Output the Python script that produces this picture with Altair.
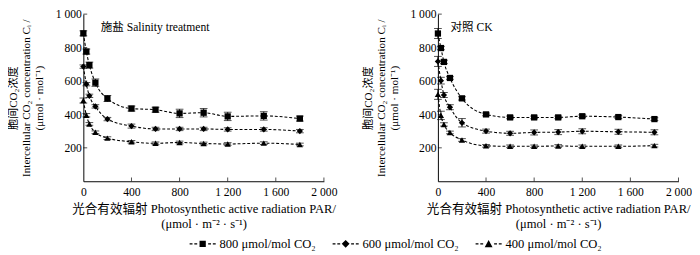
import altair as alt
import pandas as pd

# ---- data ----
par = [0, 25, 50, 100, 200, 400, 600, 800, 1000, 1200, 1500, 1800]

series_names = ["800 μmol/mol CO₂", "600 μmol/mol CO₂", "400 μmol/mol CO₂"]

# 施盐 Salinity treatment
salt_800 = [885, 776, 695, 590, 495, 435, 428, 406, 410, 388, 391, 375]
salt_600 = [686, 581, 511, 448, 372, 330, 313, 313, 313, 310, 310, 300]
salt_400 = [483, 395, 343, 293, 258, 236, 227, 232, 226, 223, 228, 220]
salt_800_err = [15, 15, 18, 22, 18, 15, 15, 25, 25, 25, 25, 15]
salt_600_err = [10, 10, 10, 10, 10, 12, 10, 10, 10, 10, 10, 10]
salt_400_err = [15, 10, 8, 8, 8, 8, 8, 8, 8, 8, 8, 8]

# 对照 CK
ck_800 = [884, 797, 714, 618, 496, 400, 382, 382, 382, 389, 384, 372]
ck_600 = [717, 602, 516, 443, 350, 300, 287, 292, 294, 299, 296, 293]
ck_400 = [520, 394, 340, 292, 247, 212, 209, 209, 211, 209, 209, 213]
ck_800_err = [30, 10, 10, 8, 10, 8, 8, 8, 8, 8, 8, 8]
ck_600_err = [30, 20, 15, 15, 25, 12, 12, 15, 15, 15, 15, 15]
ck_400_err = [30, 25, 10, 8, 8, 8, 8, 8, 8, 8, 8, 8]

panel_names = ["施盐 Salinity treatment", "对照 CK"]

x_ticks = [400, 800, 1200, 1600, 2000]
y_ticks = [200, 400, 600, 800, 1000]

# ---- build long table ----
rows = []
panel_data = {
    panel_names[0]: [(salt_800, salt_800_err), (salt_600, salt_600_err), (salt_400, salt_400_err)],
    panel_names[1]: [(ck_800, ck_800_err), (ck_600, ck_600_err), (ck_400, ck_400_err)],
}
for pname, sets in panel_data.items():
    for sname, (vals, errs) in zip(series_names, sets):
        for p, v, e in zip(par, vals, errs):
            rows.append({"panel": pname, "series": sname, "par": p, "ci": v,
                         "lo": v - e, "hi": v + e})
df = pd.DataFrame(rows)

FONT = "Liberation Serif, Noto Sans CJK SC"
shapes = ["square", "diamond", "triangle-up"]

dash = ("M-1,-0.05h0.22v0.1h-0.22z M-0.64,-0.05h0.22v0.1h-0.22z "
        "M0.42,-0.05h0.22v0.1h-0.22z M0.78,-0.05h0.22v0.1h-0.22z ")
legend_paths = [
    dash + "M-0.24,-0.24h0.48v0.48h-0.48z",
    dash + "M0,-0.3L0.3,0L0,0.3L-0.3,0z",
    dash + "M0,-0.3L0.3,0.26L-0.3,0.26z",
]

xscale = alt.Scale(domain=[0, 2000], nice=False)
yscale = alt.Scale(domain=[0, 1000], nice=False)

label_expr = "replace(format(datum.value, ','), ',', ' ')"

xaxis = alt.Axis(values=[0, 400, 800, 1200, 1600, 2000], labelExpr=label_expr,
                 ticks=False, grid=False, labelPadding=6, labelFlush=False,
                 title=["光合有效辐射 Photosynthetic active radiation PAR/", "(μmol · m⁻² · s⁻¹)"],
                 titlePadding=5, titleLineHeight=16, titleFontSize=13)
yaxis = alt.Axis(values=y_ticks, labelExpr=label_expr, ticks=False, grid=False,
                 labelPadding=2, labelFlush=False,
                 title=["胞间CO₂浓度", "Intercellular CO₂ concentration Cᵢ /", "(μmol · mol⁻¹)"],
                 titlePadding=11, titleLineHeight=13.5, titleFontSize=11.5)


def make_panel(pname, label_x, with_legend):
    base = alt.Chart(df).transform_filter(alt.datum.panel == pname)
    X = alt.X("par:Q", scale=xscale, axis=xaxis)
    Y = alt.Y("ci:Q", scale=yscale, axis=yaxis)

    line = base.mark_line(interpolate="monotone", strokeDash=[3, 2], color="black",
                          strokeWidth=1.1).encode(x=X, y=Y, detail="series:N")
    rule = base.mark_rule(color="black", strokeWidth=1).encode(
        x="par:Q", y="lo:Q", y2="hi:Q")
    cap_lo = base.mark_tick(orient="horizontal", size=8, thickness=1, color="black").encode(
        x="par:Q", y="lo:Q")
    cap_hi = base.mark_tick(orient="horizontal", size=8, thickness=1, color="black").encode(
        x="par:Q", y="hi:Q")
    pts = [
        base.transform_filter(alt.datum.series == s).mark_point(
            shape=shp, filled=True, color="black", size=42, opacity=1
        ).encode(x="par:Q", y="ci:Q")
        for s, shp in zip(series_names, shapes)
    ]
    xt = alt.Chart(pd.DataFrame({"v": x_ticks, "z": [0] * len(x_ticks)})).mark_tick(
        orient="vertical", size=4, thickness=1, color="black", yOffset=-2
    ).encode(x="v:Q", y="z:Q")
    yt = alt.Chart(pd.DataFrame({"v": y_ticks, "z": [0] * len(y_ticks)})).mark_tick(
        orient="horizontal", size=4, thickness=1, color="black", xOffset=2
    ).encode(x="z:Q", y="v:Q")
    txt = alt.Chart(pd.DataFrame({"t": [pname]})).mark_text(
        align="left", baseline="middle", fontSize=12, font=FONT, color="black"
    ).encode(text="t:N", x=alt.value(label_x), y=alt.value(13))

    layers = [line, rule, cap_lo, cap_hi] + pts + [xt, yt, txt]
    if with_legend:
        leg = base.mark_point(filled=True, opacity=0, color="black").encode(
            x="par:Q", y="ci:Q",
            shape=alt.Shape("series:N",
                            scale=alt.Scale(domain=series_names, range=legend_paths),
                            legend=alt.Legend(orient="none", legendX=110, legendY=224,
                                              direction="horizontal", title=None,
                                              symbolSize=729, symbolStrokeWidth=0,
                                              symbolFillColor="black", symbolOpacity=1,
                                              labelFontSize=13, labelFont=FONT,
                                              labelColor="black", labelOffset=4,
                                              columnPadding=17)))
        layers.append(leg)
    return alt.layer(*layers).properties(width=249, height=173)


chart = alt.hconcat(
    make_panel(panel_names[0], 18, True),
    make_panel(panel_names[1], 13, False),
    spacing=26,
).properties(
    padding={"left": 0, "top": -4, "right": 0, "bottom": 0}
).configure_view(stroke=None).configure_axis(
    domainColor="black", domainWidth=1, labelColor="black", titleColor="black",
    labelFont=FONT, titleFont=FONT, labelFontSize=12, titleFontSize=12,
    titleFontWeight="normal"
)

chart.save("out.html", embed_options={"renderer": "svg", "actions": False})
